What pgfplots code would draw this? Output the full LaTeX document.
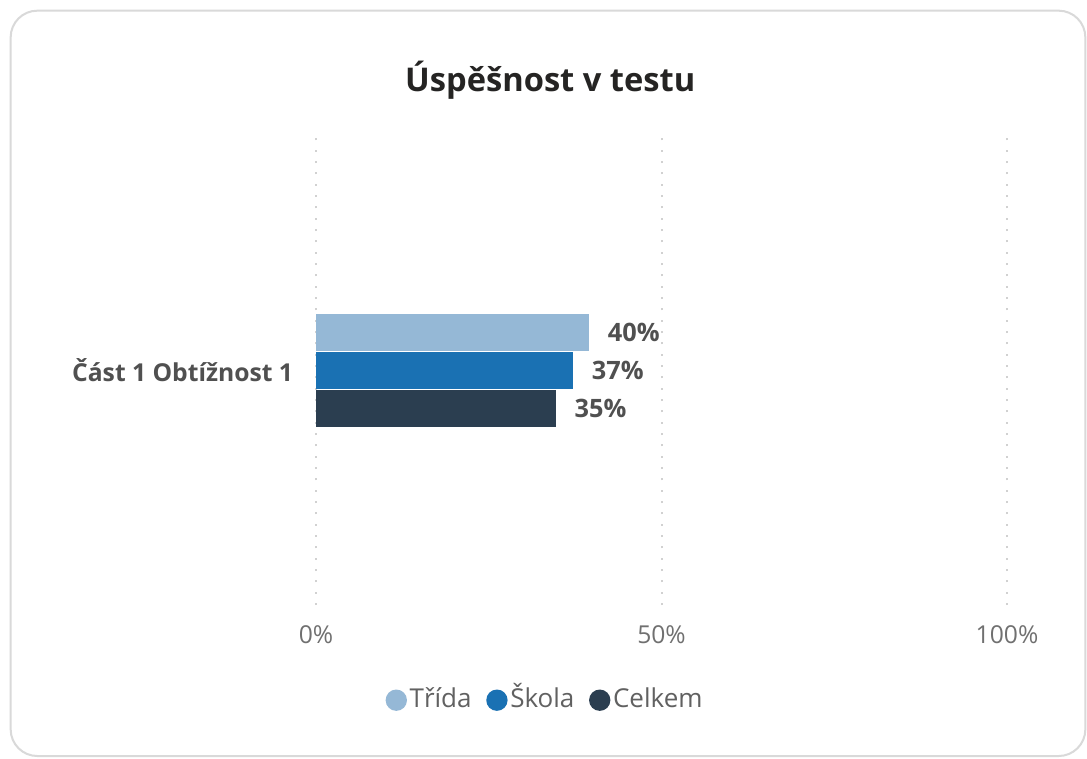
\documentclass[border=0pt]{standalone}
\usepackage{fontspec}
\setmainfont{Open Sans}
\usepackage{pgfplots}
\pgfplotsset{compat=1.18}
\definecolor{trida}{HTML}{95B8D6}
\definecolor{skola}{HTML}{1A71B3}
\definecolor{celkem}{HTML}{2B3E50}
\definecolor{lab}{HTML}{505050}
\definecolor{tick}{HTML}{707070}
\definecolor{ttl}{HTML}{252423}
\begin{document}
\begin{tikzpicture}
\useasboundingbox (0,0) rectangle (815.25pt,-568.5pt);
\fill[white] (0,0) rectangle (815.25pt,-568.5pt);
\draw[color=black!15, line width=1.5pt, rounded corners=20pt] (8pt,-8pt) rectangle (814pt,-567pt);
\begin{axis}[
  at={(237pt,-453.75pt)}, anchor=south west,
  scale only axis, width=518.25pt, height=352.5pt,
  xbar, xmin=0, xmax=100, ymin=-1, ymax=1,
  bar width=27.75pt,
  axis line style={draw=none},
  major tick length=0pt,
  xtick={0,50,100},
  xticklabel={\pgfmathprintnumber{\tick}\%},
  xticklabel style={font=\fontsize{18.5}{22}\selectfont, color=tick, anchor=center, yshift=-22pt},
  ytick={0}, yticklabels={Část 1 Obtížnost 1},
  yticklabel style={font=\fontsize{18.5}{22}\selectfont\bfseries, color=lab, anchor=east, inner sep=0pt, xshift=-17pt},
  xmajorgrids, grid style={color=black!18, line width=1.5pt, dash pattern=on 1.5pt off 7pt},
  /pgf/number format/assume math mode=true,
  nodes near coords={\pgfmathprintnumber[fixed,precision=0]{\pgfplotspointmeta}\%},
  nodes near coords style={font=\fontsize{19}{22}\selectfont\bfseries, color=lab, anchor=west, inner sep=0pt, xshift=14pt},
  point meta=explicit,
  title={Úspěšnost v testu},
  title style={font=\fontsize{24.5}{28}\selectfont\bfseries, color=ttl, at={(axis description cs:0.339,1.10)}, anchor=center},
  legend columns=-1,
  legend style={draw=none, fill=none, at={(axis description cs:0.332,-0.203)}, anchor=center,
    font=\fontsize{19.5}{23}\selectfont, text=lab!90, inner sep=0pt,
    nodes={text height=0.72em, text depth=0.05em, inner sep=2pt},
    /tikz/every even column/.style={column sep=9pt}},
  legend image code/.code={\fill[#1] (0.2cm,0.25em) circle (8pt);},
  /pgfplots/legend cell align=left,
]
\addplot[fill=trida, draw=none, bar shift=28.5pt] coordinates {(39.5,0) [39.5]};
\addplot[fill=skola, draw=none, bar shift=0pt] coordinates {(37.2,0) [37.2]};
\addplot[fill=celkem, draw=none, bar shift=-28.5pt] coordinates {(34.7,0) [34.7]};
\legend{Třída, Škola, Celkem}
\end{axis}
\end{tikzpicture}
\end{document}
